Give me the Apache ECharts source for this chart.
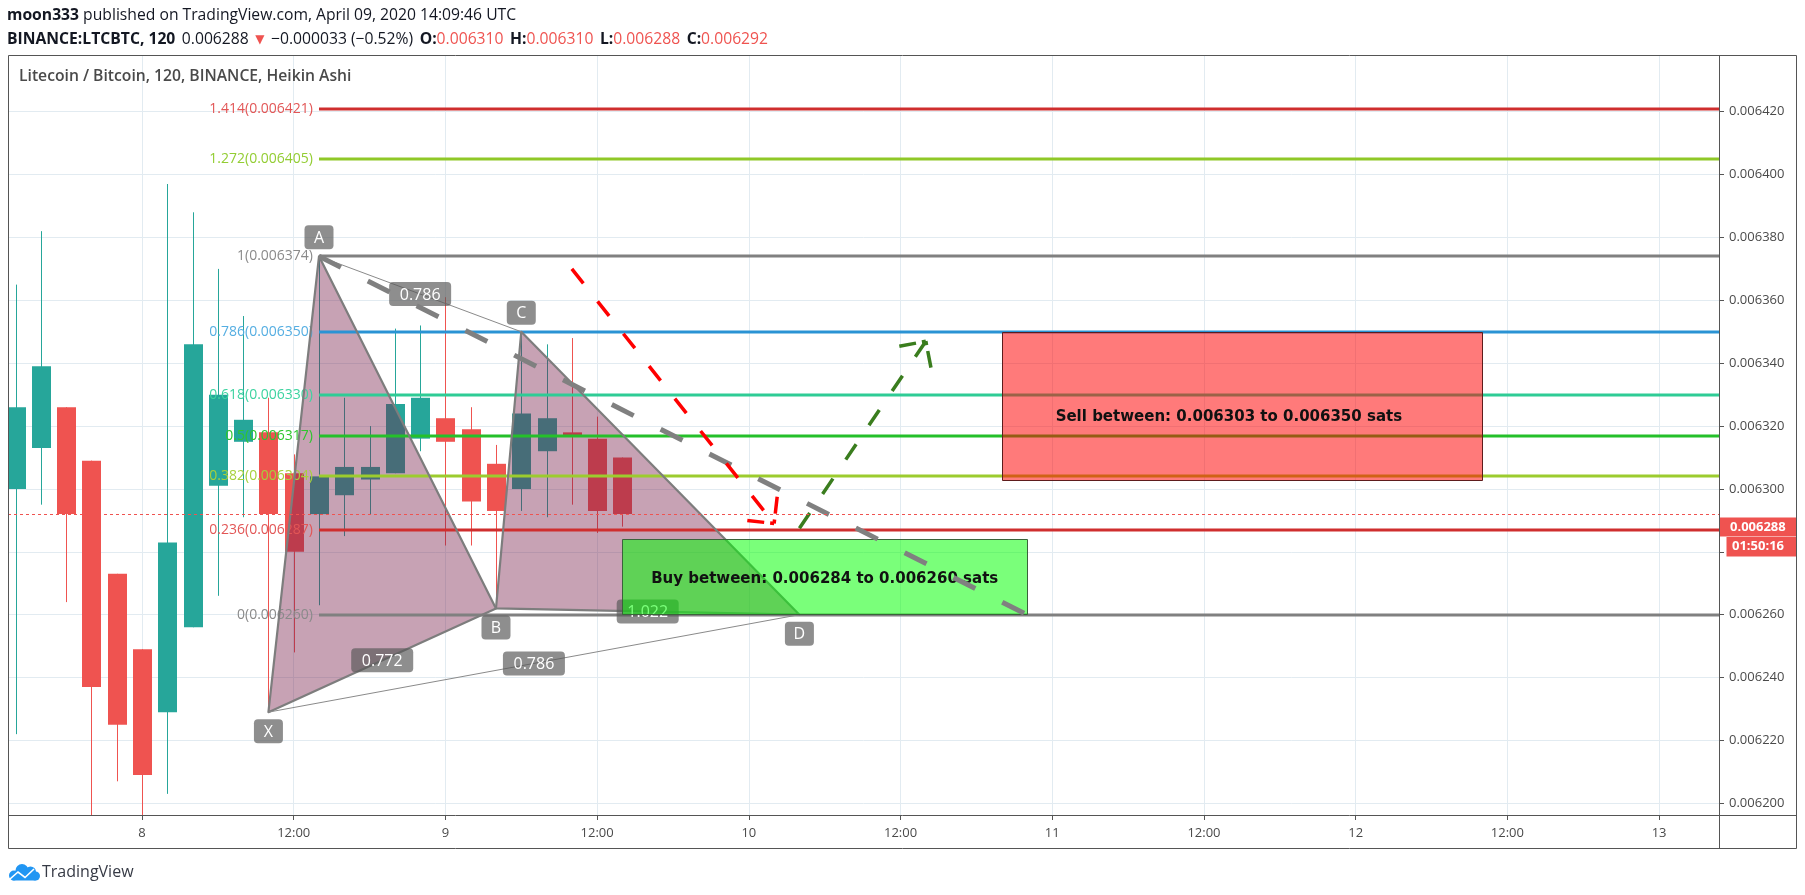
<!DOCTYPE html>
<html>
<head>
<meta charset="utf-8">
<title>LTCBTC 120 Heikin Ashi</title>
<script src="https://cdn.jsdelivr.net/npm/echarts@6.0.0/dist/echarts.min.js"></script>
<style>
html,body{margin:0;padding:0;background:#ffffff;}
#chart{width:1805px;height:895px;}
</style>
</head>
<body>
<div id="chart"></div>
<script>
// ---------------- data ----------------
const candleTimes = [
  '2020-04-07 14:00','2020-04-07 16:00','2020-04-07 18:00','2020-04-07 20:00','2020-04-07 22:00',
  '2020-04-08 00:00','2020-04-08 02:00','2020-04-08 04:00','2020-04-08 06:00','2020-04-08 08:00',
  '2020-04-08 10:00','2020-04-08 12:00','2020-04-08 14:00','2020-04-08 16:00','2020-04-08 18:00',
  '2020-04-08 20:00','2020-04-08 22:00','2020-04-09 00:00','2020-04-09 02:00','2020-04-09 04:00',
  '2020-04-09 06:00','2020-04-09 08:00','2020-04-09 10:00','2020-04-09 12:00','2020-04-09 14:00'
];
const candleOpen  = [0.006300,0.006313,0.006326,0.006309,0.006273,0.006249,0.006229,0.006256,0.006301,0.006315,
                     0.006318,0.006305,0.006292,0.006298,0.006303,0.006305,0.006316,0.0063225,0.006319,0.006308,
                     0.006300,0.006312,0.006318,0.006316,0.006310];
const candleClose = [0.006326,0.006339,0.006292,0.006237,0.006225,0.006209,0.006283,0.006346,0.006330,0.006322,
                     0.006292,0.006280,0.006304,0.006307,0.006307,0.006327,0.006329,0.006315,0.006296,0.006293,
                     0.006324,0.0063225,0.006317,0.006293,0.006292];
const candleLow   = [0.006222,0.006295,0.006264,0.006195,0.006207,0.006195,0.006203,0.006256,0.006266,0.006291,
                     0.006229,0.006248,0.006263,0.006285,0.006292,0.006305,0.006312,0.006282,0.006282,0.006262,
                     0.006293,0.006291,0.006295,0.006286,0.006288];
const candleHigh  = [0.006365,0.006382,0.006326,0.006309,0.006273,0.006249,0.006397,0.006388,0.006370,0.006355,
                     0.006329,0.006311,0.006374,0.006329,0.006320,0.006351,0.006352,0.006361,0.006326,0.006314,
                     0.006350,0.006346,0.006348,0.006323,0.006310];

const xTickTimes = ['2020-04-08 00:00','2020-04-08 12:00','2020-04-09 00:00','2020-04-09 12:00',
                    '2020-04-10 00:00','2020-04-10 12:00','2020-04-11 00:00','2020-04-11 12:00',
                    '2020-04-12 00:00','2020-04-12 12:00','2020-04-13 00:00'];
const yTickValues = [0.006200,0.006220,0.006240,0.006260,0.006280,0.006300,
                     0.006320,0.006340,0.006360,0.006380,0.006400,0.006420];

const fibRatios = ['1.414','1.272','1','0.786','0.618','0.5','0.382','0.236','0'];
const fibPrices = [0.006421,0.006405,0.006374,0.006350,0.006330,0.006317,0.006304,0.006287,0.006260];
const fibStartTime = '2020-04-08 14:00';

const patternNames  = ['X','A','B','C','D'];
const patternTimes  = ['2020-04-08 10:00','2020-04-08 14:00','2020-04-09 04:00','2020-04-09 06:00','2020-04-10 04:00'];
const patternPrices = [0.006229,0.006374,0.006262,0.006350,0.006260];
const ratioLabels = ['0.772','0.786','1.022','0.786'];
const ratioFrom   = ['X','A','B','X'];
const ratioTo     = ['B','C','D','D'];

const zoneTexts = ['Buy between: 0.006284 to 0.006260 sats','Sell between: 0.006303 to 0.006350 sats'];
const zoneStart = ['2020-04-09 14:00','2020-04-10 20:00'];
const zoneEnd   = ['2020-04-10 22:00','2020-04-12 10:00'];
const zoneLow   = [0.006260,0.006303];
const zoneHigh  = [0.006284,0.006350];

const pathStartTime  = ['2020-04-08 14:00','2020-04-09 10:00','2020-04-10 04:00'];
const pathEndTime    = ['2020-04-10 22:00','2020-04-10 02:00','2020-04-10 14:00'];
const pathStartPrice = [0.006374,0.006370,0.0062875];
const pathEndPrice   = [0.006260,0.006289,0.006347];

const lastClose = 0.006292;
const lastPrice = 0.006288;
const countdown = '01:50:16';

// ---------------- styles ----------------
const fibLineColors = ['#cf2e2e','#8fc827','#808080','#2a93d4','#2ecc95','#25c02a','#9ccc2e','#cf2e2e','#808080'];
const fibTextColors = ['#e25656','#93cd33','#8a8a8a','#55aee2','#3dd3a0','#2ec52e','#a6d03c','#e25656','#8a8a8a'];
const zoneStyles = [
  {fill:'rgba(0,255,0,0.52)', stroke:'#3a633a', dx:0, dy:2},
  {fill:'rgba(255,0,0,0.52)', stroke:'#5e1c1c', dx:-13, dy:11}
];
const pathStyles = [
  {color:'#808080', width:5, dash:[24.5,30.2], head:false},
  {color:'#ff0000', width:3.5, dash:[18.5,22.9], head:true, headDash:[4,6,18]},
  {color:'#3a7d1e', width:3.5, dash:[18.5,22.9], head:true, headDash:[4,6,18]}
];
const UP = '#26a69a', DOWN = '#ef5350';
const FONT = '"Open Sans", "Noto Sans", sans-serif';

// ---------------- helpers ----------------
const T0 = Date.parse('2020-04-08T00:00:00Z');
const toH = t => (Date.parse(t.replace(' ', 'T') + ':00Z') - T0) / 3600000;

const X_MIN = -10.60, X_MAX = 124.74;
const Y_MIN = 0.00619628, Y_MAX = 0.00643804;

const candleData = candleTimes.map((t, i) => [toH(t), candleOpen[i], candleClose[i], candleLow[i], candleHigh[i]]);
const fibData = fibPrices.map(p => [toH(fibStartTime), p]);
const zoneData = zoneTexts.map((_, i) => [toH(zoneStart[i]), toH(zoneEnd[i]), zoneLow[i], zoneHigh[i]]);
const pathData = pathStartTime.map((t, i) => [toH(t), pathStartPrice[i], toH(pathEndTime[i]), pathEndPrice[i]]);
const patternData = [[toH(patternTimes[0]), patternPrices[0]]];

function renderCandle(params, api) {
  const x = api.value(0), o = api.value(1), c = api.value(2), l = api.value(3), h = api.value(4);
  const po = api.coord([x, o]), pc = api.coord([x, c]), pl = api.coord([x, l]), ph = api.coord([x, h]);
  const w = api.size([1.5, 0])[0];
  const color = c >= o ? UP : DOWN;
  const cx = Math.round(po[0]) + 0.5;
  const top = Math.min(po[1], pc[1]), bot = Math.max(po[1], pc[1]);
  return {type: 'group', children: [
    {type: 'line', shape: {x1: cx, y1: ph[1], x2: cx, y2: pl[1]}, style: {stroke: color, lineWidth: 1}},
    {type: 'rect', shape: {x: Math.round(cx - w / 2), y: top, width: Math.round(w), height: Math.max(1.5, bot - top)}, style: {fill: color}}
  ]};
}

function tag(cx, cy, text, w) {
  return [
    {type: 'rect', shape: {x: cx - w / 2, y: cy - 12, width: w, height: 24, r: 4}, style: {fill: 'rgba(88,88,88,0.68)'}},
    {type: 'text', x: cx, y: cy + 1, style: {text: text, fill: '#ffffff', font: '16px ' + FONT, align: 'center', verticalAlign: 'middle'}}
  ];
}

function patternPoints(api) {
  const pts = {};
  patternNames.forEach((n, i) => { pts[n] = api.coord([toH(patternTimes[i]), patternPrices[i]]); });
  return pts;
}

function renderPatternFill(params, api) {
  const P = patternPoints(api);
  const fill = 'rgba(118,28,72,0.41)';
  return {type: 'group', children: [
    {type: 'polygon', shape: {points: [P.X, P.A, P.B]}, style: {fill: fill}},
    {type: 'polygon', shape: {points: [P.B, P.C, P.D]}, style: {fill: fill}}
  ]};
}

function renderPatternLines(params, api) {
  const P = patternPoints(api);
  const edge = {stroke: '#7d7d7d', lineWidth: 2.2, fill: null, lineJoin: 'round'};
  const thin = {stroke: '#8a8a8a', lineWidth: 1};
  const ch = [
    {type: 'polygon', shape: {points: [P.X, P.A, P.B]}, style: edge},
    {type: 'polygon', shape: {points: [P.B, P.C, P.D]}, style: edge},
    {type: 'line', shape: {x1: P.A[0], y1: P.A[1], x2: P.C[0], y2: P.C[1]}, style: thin},
    {type: 'line', shape: {x1: P.X[0], y1: P.X[1], x2: P.D[0], y2: P.D[1]}, style: thin}
  ];
  ratioLabels.forEach((lab, i) => {
    const a = P[ratioFrom[i]], b = P[ratioTo[i]];
    tag((a[0] + b[0]) / 2, (a[1] + b[1]) / 2, lab, 62).forEach(e => ch.push(e));
  });
  patternNames.forEach((n, i) => {
    const p = P[n];
    const above = (i % 2 === 1);
    tag(p[0], p[1] + (above ? -19 : 19), n, 29).forEach(e => ch.push(e));
  });
  return {type: 'group', children: ch};
}

function renderFib(params, api) {
  const i = params.dataIndex;
  const p = api.coord([api.value(0), api.value(1)]);
  const xEnd = params.coordSys.x + params.coordSys.width;
  const y = Math.round(p[1]);
  return {type: 'group', children: [
    {type: 'line', shape: {x1: p[0], y1: y, x2: xEnd, y2: y}, style: {stroke: fibLineColors[i], lineWidth: 3}},
    {type: 'text', x: p[0] - 6, y: y, style: {text: fibRatios[i] + '(' + api.value(1).toFixed(6) + ')', fill: fibTextColors[i], font: '14px ' + FONT, align: 'right', verticalAlign: 'middle'}}
  ]};
}

function renderZone(params, api) {
  const i = params.dataIndex;
  const a = api.coord([api.value(0), api.value(3)]);
  const b = api.coord([api.value(1), api.value(2)]);
  const st = zoneStyles[i];
  return {type: 'group', children: [
    {type: 'rect', shape: {x: Math.round(a[0]) + 0.5, y: Math.round(a[1]) + 0.5, width: Math.round(b[0] - a[0]), height: Math.round(b[1] - a[1])}, style: {fill: st.fill, stroke: st.stroke, lineWidth: 1}},
    {type: 'text', x: (a[0] + b[0]) / 2 + st.dx, y: (a[1] + b[1]) / 2 + st.dy, style: {text: zoneTexts[i], fill: '#111111', font: 'bold 15px "DejaVu Sans", sans-serif', align: 'center', verticalAlign: 'middle'}}
  ]};
}

function renderPath(params, api) {
  const i = params.dataIndex;
  const p1 = api.coord([api.value(0), api.value(1)]);
  const p2 = api.coord([api.value(2), api.value(3)]);
  const st = pathStyles[i];
  const ch = [{type: 'line', shape: {x1: p1[0], y1: p1[1], x2: p2[0], y2: p2[1]}, style: {stroke: st.color, lineWidth: st.width, lineDash: st.dash, lineCap: 'butt'}}];
  if (st.head) {
    const back = Math.atan2(p1[1] - p2[1], p1[0] - p2[0]);
    [-1, 1].forEach(s => {
      const a = back + s * Math.PI / 4;
      ch.push({type: 'line', shape: {x1: p2[0], y1: p2[1], x2: p2[0] + 27 * Math.cos(a), y2: p2[1] + 27 * Math.sin(a)}, style: {stroke: st.color, lineWidth: st.width, lineDash: st.headDash, lineCap: 'butt'}});
    });
  }
  return {type: 'group', children: ch};
}

function renderLast(params, api) {
  const cs = params.coordSys;
  const pl = api.coord([X_MIN, api.value(0)]);
  const pp = api.coord([X_MIN, api.value(1)]);
  const xr = cs.x + cs.width;
  const yl = Math.round(pl[1]) + 0.5;
  const yp = Math.round(pp[1]);
  return {type: 'group', children: [
    {type: 'line', shape: {x1: cs.x, y1: yl, x2: xr, y2: yl}, style: {stroke: DOWN, lineWidth: 1, lineDash: [3, 3]}},
    {type: 'rect', shape: {x: xr, y: yp - 9.5, width: 77, height: 19}, style: {fill: DOWN}},
    {type: 'text', x: xr + 11, y: yp, style: {text: lastPrice.toFixed(6), fill: '#ffffff', font: 'bold 13px ' + FONT, align: 'left', verticalAlign: 'middle'}},
    {type: 'rect', shape: {x: xr + 7.5, y: yp + 10, width: 69.5, height: 19.5}, style: {fill: DOWN}},
    {type: 'text', x: xr + 13, y: yp + 19.5, style: {text: countdown, fill: '#ffffff', font: 'bold 13px ' + FONT, align: 'left', verticalAlign: 'middle'}}
  ]};
}

const chart = echarts.init(document.getElementById('chart'), null, {renderer: 'canvas'});

const HB = 'bold 15.7px "Open Sans"';
const HN = '15.7px "Open Sans"';

const option = {
  animation: false,
  backgroundColor: '#ffffff',
  grid: {left: 8, right: 86, top: 55, bottom: 80, show: false, outerBoundsMode: 'none'},
  xAxis: {
    type: 'value', min: X_MIN, max: X_MAX,
    axisLine: {show: false, onZero: false},
    axisTick: {show: true, customValues: xTickTimes.map(toH), length: 5, lineStyle: {color: '#555555'}},
    axisLabel: {
      customValues: xTickTimes.map(toH), color: '#4a4a4a', fontSize: 13, fontFamily: 'Open Sans', margin: 12,
      formatter: v => {
        const h = Math.round(v);
        return (h % 24 === 0) ? String(8 + h / 24) : '12:00';
      }
    },
    splitLine: {show: true, lineStyle: {color: '#e2ebf1', width: 1}}
  },
  yAxis: {
    type: 'value', position: 'right', min: Y_MIN, max: Y_MAX, scale: true,
    axisLine: {show: false, onZero: false},
    axisTick: {show: true, customValues: yTickValues, length: 5, lineStyle: {color: '#555555'}},
    axisLabel: {customValues: yTickValues, color: '#4a4a4a', fontSize: 13, fontFamily: 'Open Sans', margin: 10,
      formatter: v => v.toFixed(6)},
    splitLine: {show: true, lineStyle: {color: '#e2ebf1', width: 1}}
  },
  graphic: [
    {type: 'text', x: 7, y: 16, style: {
      text: '{b|moon333}{n| published on TradingView.com, April 09, 2020 14:09:46 UTC}', verticalAlign: 'middle', font: HN,
      rich: {b: {font: HB, fill: '#131722'}, n: {font: HN, fill: '#131722'}}}},
    {type: 'text', x: 7, y: 40, style: {
      text: '{b|BINANCE:LTCBTC, 120}{s| }{n|0.006288}{s| }{a|▼}{s| }{n|−0.000033 (−0.52%)}{s| }{b|O:}{r|0.006310}{s| }{b|H:}{r|0.006310}{s| }{b|L:}{r|0.006288}{s| }{b|C:}{r|0.006292}',
      verticalAlign: 'middle', font: HN,
      rich: {b: {font: HB, fill: '#131722'},
             n: {font: HN, fill: '#131722'},
             s: {font: HN, width: 6.5},
             a: {font: '12px "DejaVu Sans"', fill: '#ef5350'},
             r: {font: HN, fill: '#ef5350'}}}},
    {type: 'text', x: 19, y: 77, style: {text: 'Litecoin / Bitcoin, 120, BINANCE, Heikin Ashi', fill: '#4a4a4a',
      font: '600 15.7px "Open Sans"', verticalAlign: 'middle'}, z: 100},
    {type: 'rect', shape: {x: 8.5, y: 55.5, width: 1788, height: 793}, style: {fill: null, stroke: '#555555', lineWidth: 1}, z: 100},
    {type: 'line', shape: {x1: 1719.5, y1: 55.5, x2: 1719.5, y2: 848.5}, style: {stroke: '#555555', lineWidth: 1}, z: 100},
    {type: 'line', shape: {x1: 8.5, y1: 815.5, x2: 1796.5, y2: 815.5}, style: {stroke: '#555555', lineWidth: 1}, z: 100},
    {type: 'group', z: 100, children: [
      {type: 'circle', shape: {cx: 14, cy: 875.5, r: 5}, style: {fill: '#2196f3'}},
      {type: 'circle', shape: {cx: 22, cy: 870.5, r: 6.5}, style: {fill: '#2196f3'}},
      {type: 'circle', shape: {cx: 30.5, cy: 872, r: 5.5}, style: {fill: '#2196f3'}},
      {type: 'circle', shape: {cx: 35.5, cy: 876, r: 4.5}, style: {fill: '#2196f3'}},
      {type: 'rect', shape: {x: 11, y: 875, width: 26, height: 5.5, r: 2}, style: {fill: '#2196f3'}},
      {type: 'polyline', shape: {points: [[10, 879], [18, 872], [25, 877.5], [34, 869]]}, style: {stroke: '#ffffff', lineWidth: 1.6, fill: null}},
      {type: 'text', x: 42, y: 872, style: {text: 'TradingView', fill: '#363a45', font: '16px "Open Sans"', verticalAlign: 'middle'}}
    ]}
  ],
  series: [
    {type: 'custom', name: 'candles', z: 2, clip: true, renderItem: renderCandle, data: candleData, encode: {x: 0, y: [1, 2, 3, 4]}},
    {type: 'custom', name: 'patternFill', z: 3, clip: true, renderItem: renderPatternFill, data: patternData},
    {type: 'custom', name: 'fib', z: 4, clip: true, renderItem: renderFib, data: fibData},
    {type: 'custom', name: 'patternLines', z: 5, clip: true, renderItem: renderPatternLines, data: patternData},
    {type: 'custom', name: 'zones', z: 6, clip: true, renderItem: renderZone, data: zoneData},
    {type: 'custom', name: 'paths', z: 7, clip: true, renderItem: renderPath, data: pathData},
    {type: 'custom', name: 'last', z: 8, clip: false, renderItem: renderLast, data: [[lastClose, lastPrice]]}
  ]
};
chart.setOption(option);
</script>
</body>
</html>
